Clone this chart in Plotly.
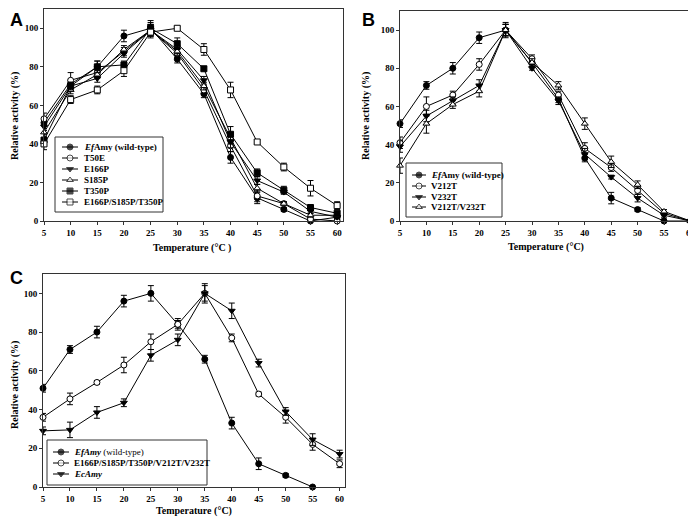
import plotly.graph_objects as go

temps = [5, 10, 15, 20, 25, 30, 35, 40, 45, 50, 55, 60]

# panel A
efamy = [51, 71, 80, 96, 100, 84, 66, 33, 12, 6, 0, 2]
efamy_err = [2, 2, 3, 3, 4, 2, 2, 3, 3, 1, 1, 1]
t50e = [53, 73, 77, 88, 99, 87, 68, 39, 13, 9, 1, 0]
t50e_err = [3, 4, 2, 2, 3, 2, 2, 3, 3, 1, 1, 1]
e166p = [49, 70, 74, 87, 99, 89, 73, 41, 21, 15, 5, 2]
e166p_err = [2, 2, 2, 2, 3, 2, 2, 3, 2, 1, 1, 1]
s185p = [46, 68, 76, 89, 99, 88, 70, 43, 17, 9, 3, 3]
s185p_err = [2, 2, 2, 2, 3, 2, 2, 3, 2, 1, 1, 1]
t350p = [42, 70, 80, 81, 100, 92, 79, 45, 25, 16, 7, 4]
t350p_err = [3, 2, 3, 2, 3, 3, 1, 4, 2, 2, 1, 1]
triple = [40, 63, 68, 78, 98, 100, 89, 68, 41, 28, 17, 8]
triple_err = [3, 2, 2, 3, 3, 1, 3, 4, 1, 2, 4, 2]

# panel B
b_efamy = [51, 71, 80, 96, 100, 83, 64, 33, 12, 6, 0, 0]
b_efamy_err = [2, 2, 3, 3, 4, 2, 2, 2, 3, 1, 1, 0]
v212t = [41, 60, 66, 82, 100, 85, 66, 38, 28, 16, 4, 0]
v212t_err = [3, 5, 2, 3, 3, 2, 2, 3, 2, 2, 1, 0]
v232t = [39, 55, 63, 71, 100, 80, 63, 35, 23, 12, 3, 0]
v232t_err = [3, 3, 2, 3, 3, 1, 2, 3, 1, 2, 1, 0]
v212t_v232t = [29, 51, 61, 68, 100, 83, 71, 51, 31, 19, 5, 0]
v212t_v232t_err = [4, 5, 2, 3, 3, 2, 2, 3, 3, 2, 1, 0]

# panel C
c_temps = [5, 10, 15, 20, 25, 30, 35, 40, 45, 50, 55]
c_efamy = [51, 71, 80, 96, 100, 84, 66, 33, 12, 6, 0]
c_efamy_err = [2, 2, 3, 3, 4, 2, 2, 3, 3, 1, 0]
combo = [36, 45.5, 54, 63, 75, 84, 100, 77, 48, 36, 22, 12]
combo_err = [2, 3, 1, 4, 4, 3, 4, 2, 1, 3, 3, 2]
ecamy = [29, 29.5, 38.5, 43.5, 68, 76, 100, 91, 64, 39, 24.5, 17]
ecamy_err = [2, 4, 3, 2, 3, 3, 5, 4, 2, 2, 3, 2]

names_a = ['<i>Ef</i>Amy (wild-type)', 'T50E', 'E166P', 'S185P', 'T350P', 'E166P/S185P/T350P']
names_b = ['<i>Ef</i>Amy (wild-type)', 'V212T', 'V232T', 'V212T/V232T']
names_c = ['<b><i>EfAmy</i></b> (wild-type)', '<b>E166P/S185P/T350P/V212T/V232T</b>', '<b><i>EcAmy</i></b>']

serif = "Liberation Serif"
W, H = 696, 518
OFF = 8  # page body margin, positions below are screen pixels


def fx(v):
    return (v - OFF) / W


def fy(v):
    return 1 - (v - OFF) / H


fig = go.Figure()


def add_series(x, y, err, symbol, color, xa, ya):
    fig.add_trace(go.Scatter(
        x=x, y=y, mode='lines+markers', showlegend=False,
        xaxis=xa, yaxis=ya, cliponaxis=False,
        line=dict(color='black', width=1),
        marker=dict(symbol=symbol, size=6, color=color,
                    line=dict(color='black', width=1)),
        error_y=dict(type='data', array=err, color='black',
                     thickness=1, width=3)))


add_series(temps, efamy, efamy_err, 'circle', 'black', 'x', 'y')
add_series(temps, t50e, t50e_err, 'circle', 'white', 'x', 'y')
add_series(temps, e166p, e166p_err, 'triangle-down', 'black', 'x', 'y')
add_series(temps, s185p, s185p_err, 'triangle-up', 'white', 'x', 'y')
add_series(temps, t350p, t350p_err, 'square', 'black', 'x', 'y')
add_series(temps, triple, triple_err, 'square', 'white', 'x', 'y')

add_series(temps, b_efamy, b_efamy_err, 'circle', 'black', 'x2', 'y2')
add_series(temps, v212t, v212t_err, 'circle', 'white', 'x2', 'y2')
add_series(temps, v232t, v232t_err, 'triangle-down', 'black', 'x2', 'y2')
add_series(temps, v212t_v232t, v212t_v232t_err, 'triangle-up', 'white', 'x2', 'y2')

add_series(c_temps, c_efamy, c_efamy_err, 'circle', 'black', 'x3', 'y3')
add_series(temps, combo, combo_err, 'circle', 'white', 'x3', 'y3')
add_series(temps, ecamy, ecamy_err, 'triangle-down', 'black', 'x3', 'y3')

tickfont = dict(family=serif, size=9, color='black', weight='bold')
titlefont = dict(family=serif, size=10, color='black')


def xaxis(domain, anchor, rng):
    return dict(domain=domain, anchor=anchor, range=rng, tickvals=temps,
                showline=True, mirror=True, linecolor='#333', linewidth=1,
                ticks='outside', ticklen=3, tickcolor='#333', showgrid=False,
                zeroline=False, tickfont=tickfont, automargin=False, fixedrange=True)


def yaxis(domain, anchor):
    return dict(domain=domain, anchor=anchor, range=[0, 110],
                tickvals=[0, 20, 40, 60, 80, 100],
                showline=True, mirror=True, linecolor='#333', linewidth=1,
                ticks='outside', ticklen=3, tickcolor='#333', showgrid=False,
                zeroline=False, tickfont=tickfont, automargin=False, fixedrange=True)


fig.update_layout(
    width=W, height=H, margin=dict(l=0, r=0, t=0, b=0),
    plot_bgcolor='rgba(0,0,0,0)', paper_bgcolor='white',
    font=dict(family=serif, color='black'),
    showlegend=False,
    xaxis=xaxis([fx(44), fx(343)], 'y', [5, 61.1]),
    yaxis=yaxis([fy(221), fy(9)], 'x'),
    xaxis2=xaxis([fx(400), fx(692)], 'y2', [5, 60.3]),
    yaxis2=yaxis([fy(221), fy(11)], 'x2'),
    xaxis3=xaxis([fx(43), fx(345)], 'y3', [5, 61]),
    yaxis3=yaxis([fy(487), fy(274)], 'x3'),
    # pixel overlay used only for the legend boxes and labels
    xaxis4=dict(domain=[0, 1], anchor='y4', range=[OFF, W + OFF], visible=False, fixedrange=True),
    yaxis4=dict(domain=[0, 1], anchor='x4', range=[H + OFF, OFF], visible=False, fixedrange=True),
)

# axis titles
titles = [
    ('<b>Relative activity (%)</b>', 15, 116, -90),
    ('<b>Temperature (°C )</b>', 192, 248, 0),
    ('<b>Relative activity (%)</b>', 366, 116, -90),
    ('<b>Temperature (°C)</b>', 546, 247, 0),
    ('<b>Relative activity (%)</b>', 15, 385, -90),
    ('<b>Temperature (°C)</b>', 194, 511, 0),
]
for txt, x, y, ang in titles:
    fig.add_annotation(text=txt, x=x, y=y, xref='x4', yref='y4', showarrow=False,
                       textangle=ang, font=titlefont)

# panel letters
for txt, x, y in [('A', 8, 8), ('B', 360, 8), ('C', 8, 266)]:
    fig.add_annotation(text='<b>' + txt + '</b>', x=x, y=y, xref='x4', yref='y4',
                       xanchor='left', yanchor='top', showarrow=False,
                       font=dict(family='Liberation Sans', size=18, color='black'))


# hand-drawn legends (plotly legend rows are too tall for this layout)
def draw_legend(box, rows, line_x, text_x, names, symbols, colors):
    x0, y0, x1, y1 = box
    fig.add_shape(type='rect', x0=x0, y0=y0, x1=x1, y1=y1, xref='x4', yref='y4',
                  line=dict(color='#333', width=1), layer='above')
    mx = (line_x[0] + line_x[1]) / 2
    for ry, name, sym, col in zip(rows, names, symbols, colors):
        fig.add_trace(go.Scatter(
            x=[line_x[0], mx, line_x[1]], y=[ry, ry, ry], xaxis='x4', yaxis='y4',
            mode='lines+markers', showlegend=False, hoverinfo='skip', cliponaxis=False,
            line=dict(color='black', width=1),
            marker=dict(symbol=sym, size=[0, 6, 0], color=col,
                        line=dict(color='black', width=[0, 1, 0]))))
        fig.add_annotation(text=name, x=text_x, y=ry, xref='x4', yref='y4',
                           xanchor='left', yanchor='middle', showarrow=False,
                           font=dict(family=serif, size=9, color='black'))


draw_legend((55, 137, 163, 212), [147, 158, 169, 180, 191, 202], (62, 78), 82,
            ['<b>' + n + '</b>' for n in names_a],
            ['circle', 'circle', 'triangle-down', 'triangle-up', 'square', 'square'],
            ['black', 'white', 'black', 'white', 'black', 'white'])
draw_legend((406, 163, 502, 217), [175, 186, 197, 207], (412, 426), 429,
            ['<b>' + n + '</b>' for n in names_b],
            ['circle', 'circle', 'triangle-down', 'triangle-up'],
            ['black', 'white', 'black', 'white'])
draw_legend((47, 440, 207, 485), [452, 463, 474], (53, 69), 72,
            names_c,
            ['circle', 'circle', 'triangle-down'],
            ['black', 'white', 'black'])

fig.write_html("out.html")
